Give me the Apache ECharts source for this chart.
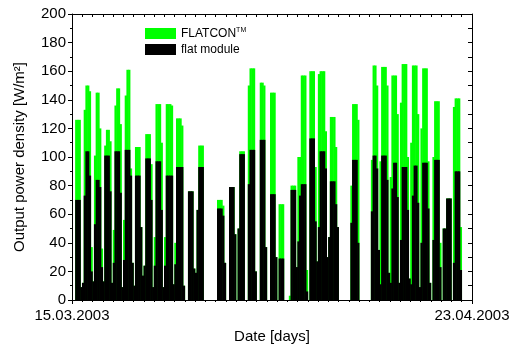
<!DOCTYPE html>
<html>
<head>
<meta charset="utf-8">
<script src="https://cdn.jsdelivr.net/npm/echarts@6/dist/echarts.min.js"></script>
<style>
  html, body { margin: 0; padding: 0; background: #fff; }
  #chart { width: 513px; height: 353px; }
</style>
</head>
<body>
<div id="chart"></div>
<script>
const startLabel = '15.03.2003'
const endLabel = '23.04.2003'
const dayCount = 39
const slotsPerDay = 6

// one row per day, 6 time slots each, W/m2
const flatconDays = [
  [0, 0, 126, 126, 126, 9],
  [12, 133, 150, 150, 146, 37],
  [13, 101, 145, 145, 120, 36],
  [13, 108, 119, 119, 111, 12],
  [49, 136, 148, 148, 123, 9],
  [56, 143, 161, 161, 92, 26],
  [10, 107, 107, 107, 51, 17],
  [24, 116, 116, 116, 95, 9],
  [44, 137, 137, 137, 110, 9],
  [44, 137, 137, 137, 136, 11],
  [40, 127, 127, 127, 122, 10],
  [0, 0, 76, 76, 76, 22],
  [19, 63, 108, 108, 108, 0],
  [0, 0, 0, 0, 0, 0],
  [0, 70, 70, 70, 66, 26],
  [0, 0, 79, 79, 79, 46],
  [0, 50, 104, 104, 104, 0],
  [0, 150, 162, 162, 162, 20],
  [0, 0, 152, 152, 150, 37],
  [0, 0, 145, 145, 145, 30],
  [0, 67, 67, 67, 0, 0],
  [0, 3, 80, 80, 80, 23],
  [100, 100, 157, 157, 157, 21],
  [0, 160, 160, 160, 93, 27],
  [158, 160, 160, 160, 118, 30],
  [44, 128, 128, 128, 107, 51],
  [0, 0, 0, 0, 0, 0],
  [0, 80, 137, 137, 137, 126],
  [0, 0, 0, 0, 0, 0],
  [0, 98, 164, 164, 150, 35],
  [97, 163, 163, 163, 150, 19],
  [86, 157, 157, 157, 130, 12],
  [138, 165, 165, 165, 100, 15],
  [110, 164, 164, 164, 130, 9],
  [120, 162, 162, 162, 97, 12],
  [0, 100, 139, 139, 139, 40],
  [0, 50, 50, 71, 71, 71],
  [0, 135, 141, 141, 141, 51],
  [0, 0, 0, 0, 0, 0]
]

const flatModuleDays = [
  [0, 0, 70, 70, 70, 9],
  [12, 73, 104, 104, 87, 20],
  [13, 53, 84, 84, 79, 23],
  [13, 101, 101, 101, 76, 12],
  [26, 104, 104, 104, 75, 9],
  [28, 105, 105, 105, 87, 26],
  [10, 87, 87, 87, 51, 17],
  [24, 99, 99, 99, 70, 9],
  [24, 97, 97, 97, 63, 9],
  [24, 87, 87, 87, 87, 11],
  [25, 93, 93, 93, 93, 10],
  [0, 0, 76, 76, 76, 22],
  [19, 63, 93, 93, 93, 0],
  [0, 0, 0, 0, 0, 0],
  [0, 64, 64, 64, 59, 26],
  [0, 0, 79, 79, 79, 46],
  [0, 50, 102, 102, 102, 0],
  [0, 81, 105, 105, 105, 20],
  [0, 0, 112, 112, 112, 37],
  [0, 0, 74, 74, 74, 30],
  [0, 29, 29, 29, 0, 0],
  [0, 0, 77, 77, 77, 23],
  [41, 73, 81, 81, 81, 6],
  [0, 113, 113, 113, 55, 27],
  [51, 104, 104, 104, 92, 30],
  [44, 83, 83, 83, 67, 51],
  [0, 0, 0, 0, 0, 0],
  [0, 54, 98, 98, 98, 40],
  [0, 0, 0, 0, 0, 0],
  [0, 62, 101, 101, 92, 35],
  [11, 101, 101, 101, 84, 19],
  [12, 78, 96, 96, 72, 12],
  [42, 93, 93, 93, 63, 15],
  [11, 73, 94, 94, 68, 9],
  [40, 96, 96, 96, 64, 12],
  [0, 42, 98, 98, 98, 23],
  [0, 50, 50, 71, 71, 71],
  [0, 26, 90, 90, 90, 21],
  [0, 0, 0, 0, 0, 0]
]

const flatcon = [].concat(...flatconDays)
const flatModule = [].concat(...flatModuleDays)
const slots = []
for (let d = 0; d < dayCount; d++) {
  for (let s = 0; s < slotsPerDay; s++) slots.push(d + '-' + s)
}

const font = '"Liberation Sans", Arial, sans-serif'
const black = '#000'

const chart = echarts.init(document.getElementById('chart'), null, { renderer: 'canvas' })
chart.setOption({
  animation: false,
  backgroundColor: '#fff',
  textStyle: { fontFamily: font },
  grid: { left: 72, right: 41, top: 14, bottom: 53, containLabel: false },
  legend: {
    orient: 'vertical',
    left: 140,
    top: 22,
    itemWidth: 31,
    itemHeight: 11,
    itemGap: 4,
    icon: 'rect',
    data: ['FLATCON', 'flat module'],
    formatter: name => name === 'FLATCON' ? '{a|FLATCON}{s|TM}' : '{a|flat module}',
    textStyle: {
      color: black,
      fontFamily: font,
      rich: {
        a: { fontSize: 12, fontFamily: font, color: black },
        s: { fontSize: 7, fontFamily: font, color: black, verticalAlign: 'top', padding: [0, 0, 6, 0] }
      }
    }
  },
  xAxis: [
    {
      type: 'category',
      data: slots,
      show: false,
      boundaryGap: true
    },
    {
      type: 'value',
      position: 'bottom',
      min: 0,
      max: dayCount,
      interval: 1,
      name: 'Date [days]',
      nameLocation: 'middle',
      nameGap: 29,
      nameTextStyle: { fontSize: 15, color: black, fontFamily: font },
      axisLine: { show: true, onZero: false, lineStyle: { color: black, width: 1 } },
      axisTick: { show: true, inside: false, length: 2, lineStyle: { color: black } },
      axisLabel: {
        show: true,
        margin: 8,
        fontSize: 15,
        color: black,
        fontFamily: font,
        showMinLabel: true,
        showMaxLabel: true,
        formatter: v => v === 0 ? startLabel : (v === dayCount ? endLabel : '')
      },
      splitLine: { show: false }
    },
    {
      type: 'value',
      position: 'top',
      min: 0,
      max: dayCount,
      interval: 1,
      axisLine: { show: true, onZero: false, lineStyle: { color: black, width: 1 } },
      axisTick: { show: true, inside: true, length: 3, lineStyle: { color: black } },
      axisLabel: { show: false },
      splitLine: { show: false }
    },
    {
      type: 'value',
      position: 'bottom',
      min: 0,
      max: dayCount,
      interval: dayCount,
      axisLine: { show: false },
      axisTick: { show: true, inside: false, length: 4, lineStyle: { color: black } },
      axisLabel: { show: false },
      splitLine: { show: false }
    }
  ],
  yAxis: [
    {
      type: 'value',
      position: 'left',
      min: 0,
      max: 200,
      interval: 20,
      name: 'Output power density [W/m²]',
      nameLocation: 'middle',
      nameGap: 45,
      nameTextStyle: { fontSize: 15, color: black, fontFamily: font },
      axisLine: { show: true, onZero: false, lineStyle: { color: black, width: 1 } },
      axisTick: { show: true, inside: false, length: 4, lineStyle: { color: black } },
      minorTick: { show: true, splitNumber: 2, length: 2, lineStyle: { color: black } },
      axisLabel: { fontSize: 15, color: black, margin: 6, fontFamily: font },
      splitLine: { show: false }
    },
    {
      type: 'value',
      position: 'right',
      min: 0,
      max: 200,
      interval: 10,
      axisLine: { show: true, onZero: false, lineStyle: { color: black, width: 1 } },
      axisTick: { show: true, inside: true, length: 4, lineStyle: { color: black } },
      axisLabel: { show: false },
      splitLine: { show: false }
    }
  ],
  series: [
    {
      name: 'FLATCON',
      type: 'bar',
      xAxisIndex: 0,
      yAxisIndex: 0,
      data: flatcon,
      barWidth: 2.3,
      barGap: '-100%',
      itemStyle: { color: '#00ff00' }
    },
    {
      name: 'flat module',
      type: 'bar',
      xAxisIndex: 0,
      yAxisIndex: 0,
      data: flatModule,
      barWidth: 2.3,
      barGap: '-100%',
      itemStyle: { color: black }
    }
  ]
})
</script>
</body>
</html>
